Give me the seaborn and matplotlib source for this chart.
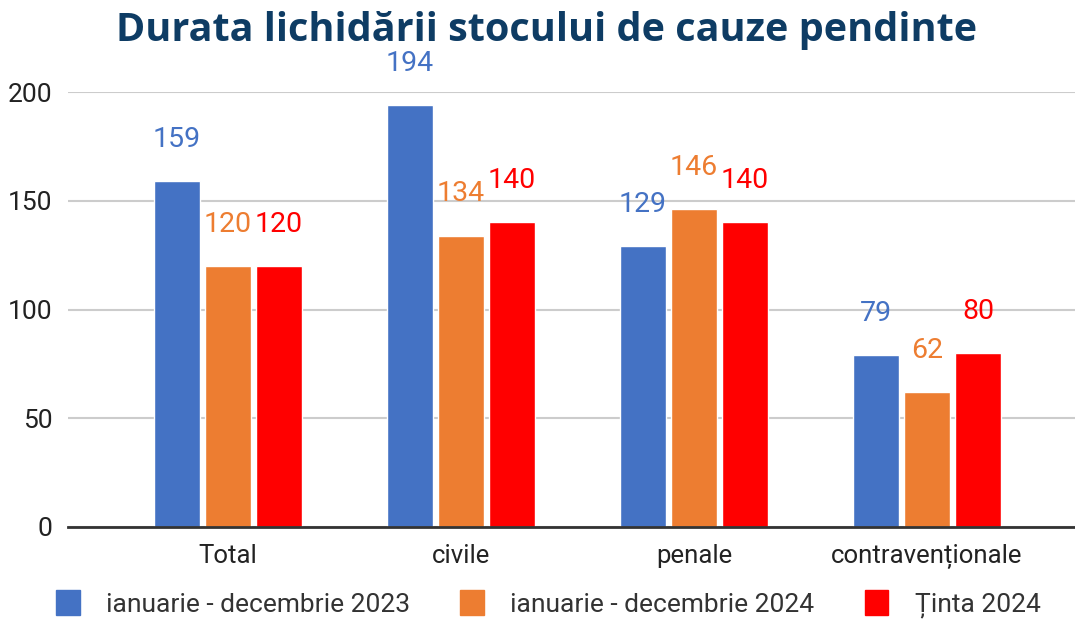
import numpy as np
import pandas as pd
import matplotlib
matplotlib.use("Agg")
import matplotlib.pyplot as plt
import seaborn as sns

categories = ["Total", "civile", "penale", "contravenționale"]
series = ["ianuarie - decembrie 2023", "ianuarie - decembrie 2024", "Ținta 2024"]
vals_2023 = [159, 194, 129, 79]
vals_2024 = [120, 134, 146, 62]
vals_tinta = [120, 140, 140, 80]
colors = ["#4472C4", "#ED7D31", "#FF0000"]

sns.set_theme(style="white")
plt.rcParams["font.family"] = ["Roboto", "DejaVu Sans"]

df = pd.DataFrame({
    "categorie": categories * 3,
    "serie": [series[0]] * 4 + [series[1]] * 4 + [series[2]] * 4,
    "valoare": vals_2023 + vals_2024 + vals_tinta,
})

fig = plt.figure(figsize=(10.75, 6.19), dpi=100)
ax = fig.add_axes([68 / 1075, 92 / 619, 1 - 68 / 1075, 435 / 619])

sns.barplot(data=df, x="categorie", y="valoare", hue="serie", order=categories,
            hue_order=series, palette=colors, width=0.657, gap=0.1,
            saturation=1, legend=False, ax=ax)

# etichete de valoare
for cont, col in zip(ax.containers, colors):
    for bar in cont:
        h = bar.get_height()
        ax.annotate(f"{h:.0f}", (bar.get_x() + bar.get_width() / 2, h),
                    xytext=(0, 30), textcoords="offset points",
                    ha="center", va="center", fontsize=20.5, color=col,
                    annotation_clip=False)

ax.set_ylim(0, 200)
ax.set_xlim(-0.687, 3.635)
ax.set_yticks([0, 50, 100, 150, 200])
ax.yaxis.grid(True, color="#cccccc", linewidth=1.5)
ax.set_axisbelow(True)
for s in ["top", "right", "left"]:
    ax.spines[s].set_visible(False)
ax.spines["bottom"].set_color("#333333")
ax.spines["bottom"].set_linewidth(2)
ax.tick_params(axis="y", labelsize=19, colors="#222222", length=0, pad=11)
ax.tick_params(axis="x", labelsize=18.5, colors="#222222", length=0, pad=12)
ax.set_xlabel("")
ax.set_ylabel("")

fig.suptitle("Durata lichidării stocului de cauze pendinte", x=0.508, y=0.982,
             fontsize=28.5, fontweight="bold", color="#0E3C64",
             family=["Open Sans", "DejaVu Sans"])

handles = [plt.Rectangle((0, 0), 1, 1, color=c) for c in colors]
fig.legend(handles, series, loc="center", bbox_to_anchor=(0.51, 0.024), ncol=3,
           frameon=False, fontsize=19, handlelength=0.9, handleheight=1.1,
           handletextpad=1.0, columnspacing=1.9, labelcolor="#333333",
           borderaxespad=0)

fig.savefig("out.png", dpi=100)
